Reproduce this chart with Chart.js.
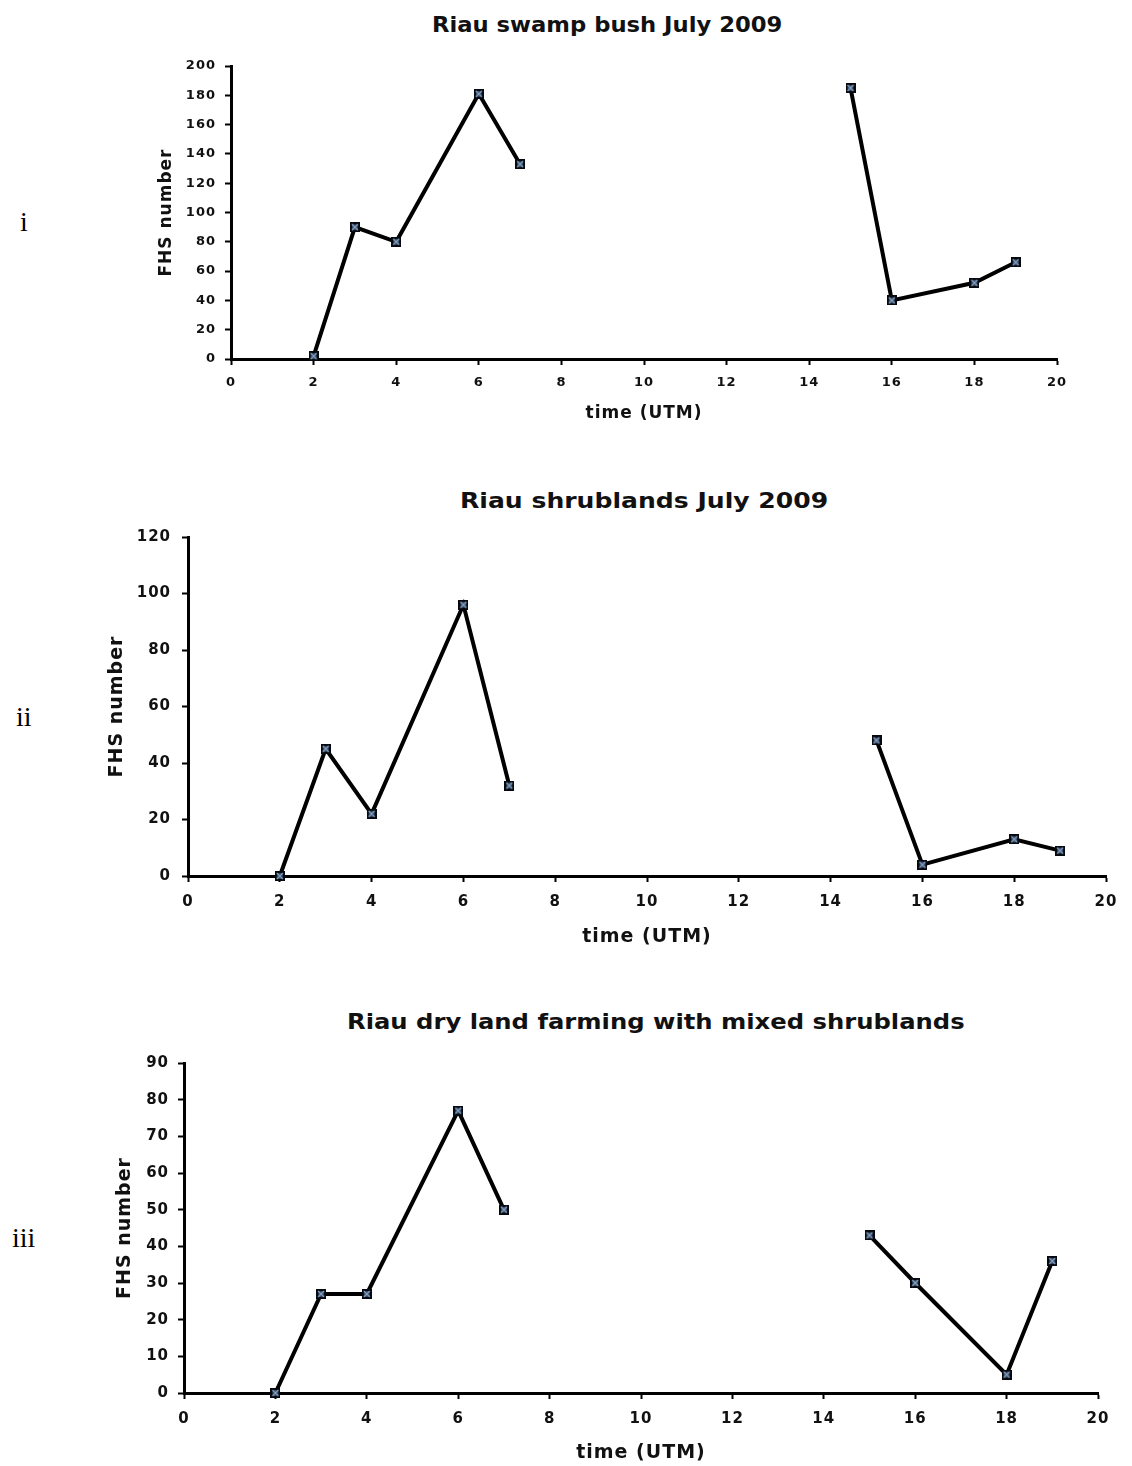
<!DOCTYPE html>
<html>
<head>
<meta charset="utf-8">
<script src="https://cdn.jsdelivr.net/npm/chart.js@4.4.1/dist/chart.umd.min.js"></script>
<style>
  body { margin: 0; background: #fff; width: 1132px; height: 1466px; position: relative; overflow: hidden; }
  canvas { position: absolute; left: 0; }
  .title { position: absolute; font-family: "DejaVu Sans", sans-serif; font-weight: bold; font-size: 21px; line-height: 1; color: #111; white-space: nowrap; transform-origin: 0 0; }
  .num { position: absolute; font-family: "Liberation Serif", serif; font-size: 28px; line-height: 1; color: #000; }
</style>
</head>
<body>
<div class="title" id="t1" data-cx="607" data-w="350" style="top:15px">Riau swamp bush July 2009</div>
<div class="title" id="t2" data-cx="644" data-w="368" style="top:491px">Riau shrublands July 2009</div>
<div class="title" id="t3" data-cx="656" data-w="618" style="top:1012px">Riau dry land farming with mixed shrublands</div>

<div class="num" style="left:20px;top:208px">i</div>
<div class="num" style="left:16px;top:703px">ii</div>
<div class="num" style="left:12px;top:1224px">iii</div>

<canvas id="c1" width="1132" height="440" style="top:0px"></canvas>
<canvas id="c2" width="1132" height="520" style="top:440px"></canvas>
<canvas id="c3" width="1132" height="506" style="top:960px"></canvas>

<script>
// Time of observation (UTM), morning and afternoon passes
const amTimes = [2, 3, 4, 6, 7];
const pmTimes = [15, 16, 18, 19];

// FHS number per land cover
const swampAM = [2, 90, 80, 181, 133];
const swampPM = [185, 40, 52, 66];
const shrubAM = [0, 45, 22, 96, 32];
const shrubPM = [48, 4, 13, 9];
const dryAM = [0, 27, 27, 77, 50];
const dryPM = [43, 30, 5, 36];

const INK = '#111';

// stretch the html titles to the width they have in the figure
document.querySelectorAll('.title').forEach(el => {
  const w = el.offsetWidth;
  const target = parseFloat(el.dataset.w);
  el.style.left = (parseFloat(el.dataset.cx) - target / 2) + 'px';
  el.style.transform = `scaleX(${target / w})`;
});

// small square marker with a cross in it
function makeMarker() {
  const c = document.createElement('canvas');
  c.width = 10; c.height = 10;
  const m = c.getContext('2d');
  m.fillStyle = '#34445a';
  m.fillRect(0, 0, 10, 10);
  m.strokeStyle = '#05090f';
  m.lineWidth = 2;
  m.strokeRect(1, 1, 8, 8);
  m.strokeStyle = '#86a4c8';
  m.lineWidth = 1.2;
  m.beginPath();
  m.moveTo(2, 2); m.lineTo(8, 8);
  m.moveTo(8, 2); m.lineTo(2, 8);
  m.stroke();
  return c;
}
const marker = makeMarker();

// wider lettering, like the stretched original
const spacing = {
  id: 'spacing',
  beforeDraw: chart => { chart.ctx.letterSpacing = '1px'; },
  afterDraw: chart => { chart.ctx.letterSpacing = '0px'; }
};

function series(times, values) {
  return {
    data: times.map((t, i) => ({ x: t, y: values[i] })),
    borderColor: '#000',
    borderWidth: 4,
    pointStyle: marker,
    pointRadius: 5,
    tension: 0,
    clip: false
  };
}

function makeChart(id, am, pm, yMax, yStep, g) {
  const tickFont = { family: 'DejaVu Sans', weight: 'bold', size: g.tick };
  const titleFont = { family: 'DejaVu Sans', weight: 'bold', size: g.axis };
  new Chart(document.getElementById(id), {
    type: 'line',
    data: { datasets: [series(amTimes, am), series(pmTimes, pm)] },
    plugins: [spacing],
    options: {
      responsive: false,
      animation: false,
      layout: { padding: { top: g.top, right: g.right, bottom: g.bottom, left: 0 } },
      plugins: { legend: { display: false }, tooltip: { enabled: false } },
      scales: {
        x: {
          type: 'linear', min: 0, max: 20,
          ticks: { stepSize: 2, font: tickFont, color: INK, padding: g.xpad, maxRotation: 0 },
          grid: { drawOnChartArea: false, tickLength: 6, tickColor: '#000', tickWidth: 2 },
          border: { color: '#000', width: 3 },
          title: { display: true, text: 'time (UTM)', font: titleFont, color: INK, padding: { top: 0, bottom: g.xtitle } },
          afterFit: s => { s.height = g.xh; }
        },
        y: {
          min: 0, max: yMax,
          ticks: { stepSize: yStep, font: tickFont, color: INK, padding: g.ypad },
          grid: { drawOnChartArea: false, tickLength: 6, tickColor: '#000', tickWidth: 2 },
          border: { color: '#000', width: 3 },
          title: { display: true, text: 'FHS number', font: titleFont, color: INK, padding: { top: g.ytitle, bottom: 0 } },
          afterFit: s => { s.width = g.yw; }
        }
      }
    }
  });
}

makeChart('c1', swampAM, swampPM, 200, 20,
  { top: 66, right: 75, bottom: 11, xh: 70, yw: 231, tick: 13, axis: 17, xpad: 10, ypad: 9, xtitle: 5, ytitle: 156 });
makeChart('c2', shrubAM, shrubPM, 120, 20,
  { top: 97, right: 26, bottom: 4, xh: 80, yw: 188, tick: 15, axis: 19, xpad: 11, ypad: 11, xtitle: 8, ytitle: 106 });
makeChart('c3', dryAM, dryPM, 90, 10,
  { top: 103, right: 34, bottom: 1, xh: 72, yw: 184, tick: 15, axis: 19, xpad: 11, ypad: 9, xtitle: 1, ytitle: 114 });
</script>
</body>
</html>
